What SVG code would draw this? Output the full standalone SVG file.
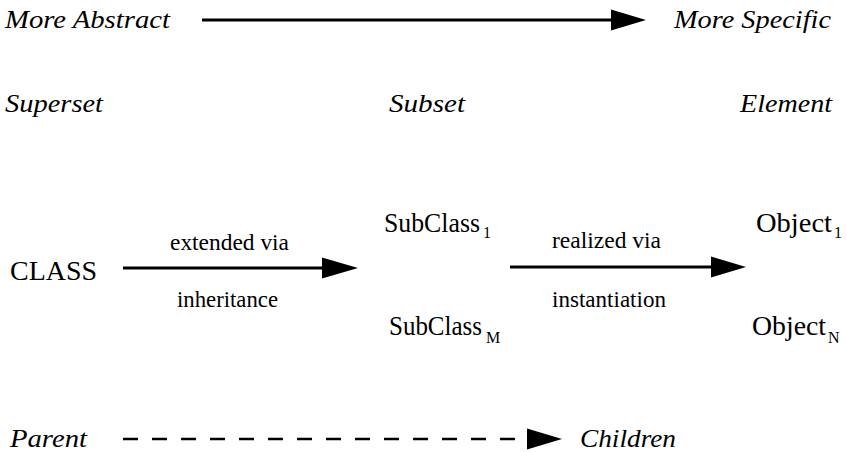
<svg xmlns="http://www.w3.org/2000/svg" width="846" height="452" viewBox="0 0 846 452">
<style>
.it{font-family:"Liberation Serif","Times New Roman",serif;font-style:italic;font-size:26px;fill:#000}
.rg{font-family:"Liberation Serif","Times New Roman",serif;font-size:27px;fill:#000}
.lb{font-family:"Liberation Serif","Times New Roman",serif;font-size:23px;fill:#000}
.sb{font-size:16px}
.ln{stroke:#000;stroke-width:3;fill:none}
.dl{stroke:#000;stroke-width:2.5;fill:none;stroke-dasharray:15 14}
.hd{fill:#000}
</style>
<rect width="846" height="452" fill="#fff"/>
<g id="connectors">
<line class="ln" x1="202" y1="20" x2="614" y2="20"/>
<polygon class="hd" points="611,9.5 646,20 611,30.5"/>
<line class="ln" x1="123" y1="268" x2="325" y2="268"/>
<polygon class="hd" points="322,257.5 358,268 322,278.5"/>
<line class="ln" x1="510" y1="267" x2="714" y2="267"/>
<polygon class="hd" points="711,256.5 746,267 711,277.5"/>
<line class="dl" x1="123" y1="439" x2="527" y2="439"/>
<polygon class="hd" points="527,428.5 562,439 527,449.5"/>
<text class="lb" x="170" y="250" textLength="119" lengthAdjust="spacingAndGlyphs">extended via</text>
<text class="lb" x="177" y="307" textLength="101" lengthAdjust="spacingAndGlyphs">inheritance</text>
<text class="lb" x="552" y="248" textLength="109" lengthAdjust="spacingAndGlyphs">realized via</text>
<text class="lb" x="552" y="307" textLength="114" lengthAdjust="spacingAndGlyphs">instantiation</text>
</g>
<g id="axis-top">
<text class="it" x="5" y="28" textLength="165" lengthAdjust="spacingAndGlyphs">More Abstract</text>
<text class="it" x="674" y="28" textLength="157" lengthAdjust="spacingAndGlyphs">More Specific</text>
</g>
<g id="superset"><text class="it" x="5" y="112" textLength="98" lengthAdjust="spacingAndGlyphs">Superset</text></g>
<g id="subset"><text class="it" x="389" y="112" textLength="76" lengthAdjust="spacingAndGlyphs">Subset</text></g>
<g id="element"><text class="it" x="740" y="112" textLength="92" lengthAdjust="spacingAndGlyphs">Element</text></g>
<g id="class"><text class="rg" x="10" y="280" textLength="87" lengthAdjust="spacingAndGlyphs">CLASS</text></g>
<g id="subclass1"><text class="rg" x="384" y="232" textLength="96" lengthAdjust="spacingAndGlyphs">SubClass</text><text class="rg sb" x="483" y="238">1</text></g>
<g id="subclassM"><text class="rg" x="389" y="335" textLength="93" lengthAdjust="spacingAndGlyphs">SubClass</text><text class="rg sb" x="486" y="343">M</text></g>
<g id="object1"><text class="rg" x="756" y="232" textLength="76" lengthAdjust="spacingAndGlyphs">Object</text><text class="rg sb" x="834" y="238">1</text></g>
<g id="objectN"><text class="rg" x="752" y="335" textLength="74" lengthAdjust="spacingAndGlyphs">Object</text><text class="rg sb" x="828" y="343">N</text></g>
<g id="parent"><text class="it" x="10" y="447" textLength="77" lengthAdjust="spacingAndGlyphs">Parent</text></g>
<g id="children"><text class="it" x="580" y="447" textLength="96" lengthAdjust="spacingAndGlyphs">Children</text></g>
</svg>
